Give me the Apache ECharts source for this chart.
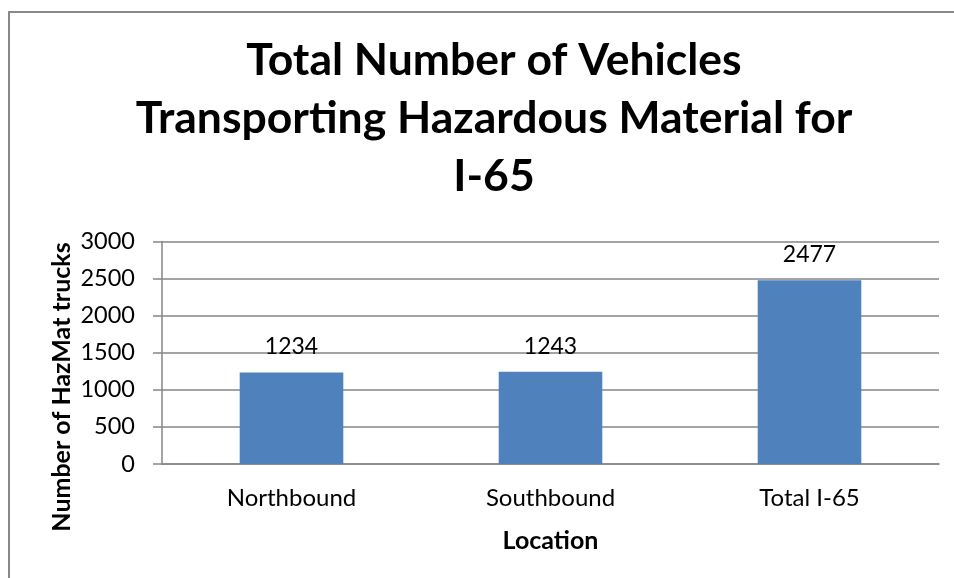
<!DOCTYPE html>
<html>
<head>
<meta charset="utf-8">
<script src="https://cdn.jsdelivr.net/npm/echarts@6/dist/echarts.min.js"></script>
<style>
  html, body { margin: 0; padding: 0; background: #fff; }
  #main { width: 954px; height: 578px; }
</style>
</head>
<body>
<div id="main"></div>
<script>
var categories = ['Northbound', 'Southbound', 'Total I-65'];
var truckCounts = [1234, 1243, 2477];
var yTicks = [0, 500, 1000, 1500, 2000, 2500, 3000];

var myChart = echarts.init(document.getElementById('main'));
var font = 'Lato';
var gray = '#868686';

var option = {
  backgroundColor: '#fff',
  animation: false,
  title: {
    text: 'Total Number of Vehicles\nTransporting Hazardous Material for\nI-65',
    left: 489,
    top: 27,
    textAlign: 'center',
    textStyle: {
      fontFamily: font,
      fontWeight: 'bold',
      fontSize: 44.5,
      lineHeight: 58,
      color: '#000'
    }
  },
  graphic: [
    {
      type: 'rect',
      shape: { x: 9, y: 12, width: 1000, height: 1000 },
      style: { fill: 'none', stroke: '#898989', lineWidth: 2 },
      silent: true
    },
    {
      type: 'text',
      x: 62,
      y: 387,
      rotation: Math.PI / 2,
      style: {
        text: 'Number of HazMat trucks',
        font: 'bold 25px ' + font,
        fill: '#000',
        align: 'center',
        verticalAlign: 'middle'
      }
    }
  ],
  grid: { left: 162, right: 15, top: 241.5, bottom: 114 },
  xAxis: {
    type: 'category',
    data: categories,
    name: 'Location',
    nameLocation: 'middle',
    nameGap: 64,
    nameTextStyle: { fontFamily: font, fontWeight: 'bold', fontSize: 25, color: '#000' },
    axisLine: { lineStyle: { color: gray, width: 1.5 } },
    axisTick: { show: false },
    axisLabel: { fontFamily: font, fontSize: 24, color: '#000', margin: 22 }
  },
  yAxis: {
    type: 'value',
    min: yTicks[0],
    max: yTicks[yTicks.length - 1],
    interval: yTicks[1] - yTicks[0],
    axisLine: { show: true, lineStyle: { color: gray, width: 1.5 } },
    axisTick: { show: true, length: 9, lineStyle: { color: gray, width: 1.5 } },
    axisLabel: {
      fontFamily: font, fontSize: 23.5, color: '#000', margin: 27,
      formatter: function (v) { return String(v); }
    },
    splitLine: { lineStyle: { color: gray, width: 1.5 } }
  },
  series: [{
    type: 'bar',
    data: truckCounts,
    barWidth: '40%',
    itemStyle: { color: '#4F81BD' },
    label: {
      show: true,
      position: 'top',
      distance: 14,
      fontFamily: font,
      fontSize: 23,
      color: '#000'
    }
  }]
};

myChart.setOption(option);
</script>
</body>
</html>
